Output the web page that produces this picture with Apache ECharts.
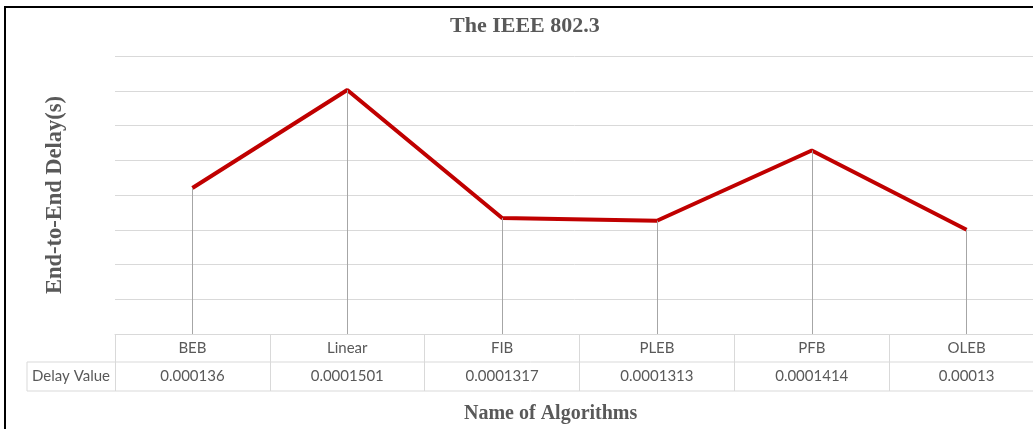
<!DOCTYPE html>
<html>
<head>
<meta charset="utf-8">
<script src="https://cdn.jsdelivr.net/npm/echarts@6/dist/echarts.min.js"></script>
<style>
html,body{margin:0;padding:0;background:#fff;}
#c{width:1033px;height:429px;}
</style>
</head>
<body>
<div id="c"></div>
<script>
// ---- data ----
var algorithms = ['BEB', 'Linear', 'FIB', 'PLEB', 'PFB', 'OLEB'];
var delayValues = [0.000136, 0.0001501, 0.0001317, 0.0001313, 0.0001414, 0.00013];
var seriesName = 'Delay Value';
var Y_MIN = 0.000115, Y_MAX = 0.000155, Y_STEP = 0.000005;

var delayLabels = delayValues.map(function (v) { return String(v); });
var gridColor = '#d9d9d9';
var textColor = '#595959';
var serif = '"Liberation Serif", "Times New Roman", serif';
var sans = 'Lato, "Open Sans", sans-serif';

var chart = echarts.init(document.getElementById('c'), null, {renderer: 'canvas'});
chart.setOption({
  animation: false,
  backgroundColor: '#ffffff',
  title: [
    {text: 'The IEEE 802.3', left: 450, top: 15, padding: 0,
     textStyle: {fontFamily: serif, fontWeight: 'bold', fontSize: 22, color: textColor}},
    {text: 'Name of Algorithms', left: 464, top: 404, padding: 0,
     textStyle: {fontFamily: serif, fontWeight: 'bold', fontSize: 20, color: textColor}}
  ],
  grid: {left: 115, top: 56, width: 929, height: 278, outerBoundsMode: 'none', containLabel: false},
  xAxis: [
    {type: 'category', data: algorithms, position: 'bottom', boundaryGap: true,
     axisLine: {show: true, lineStyle: {color: gridColor, width: 1}},
     axisTick: {show: true, length: 57, interval: 0, lineStyle: {color: gridColor, width: 1}},
     axisLabel: {interval: 0, margin: 0, lineHeight: 28, fontFamily: sans, fontSize: 15, color: textColor},
     splitLine: {show: false}},
    {type: 'category', data: delayLabels, position: 'bottom', offset: 28, boundaryGap: true,
     axisLine: {show: false}, axisTick: {show: false},
     axisLabel: {interval: 0, margin: 0, lineHeight: 29, fontFamily: sans, fontSize: 15, color: textColor},
     splitLine: {show: false}}
  ],
  yAxis: {
    type: 'value', min: Y_MIN, max: Y_MAX, interval: Y_STEP,
    name: 'End-to-End Delay(s)', nameLocation: 'middle', nameGap: 48,
    nameTextStyle: {fontFamily: serif, fontWeight: 'bold', fontSize: 22.5, color: textColor},
    axisLine: {show: false}, axisTick: {show: false}, axisLabel: {show: false},
    splitLine: {show: true, lineStyle: {color: gridColor, width: 1}}
  },
  series: [{
    name: seriesName, type: 'line', data: delayValues, xAxisIndex: 0,
    symbol: 'none', lineStyle: {color: '#c00000', width: 4},
    z: 3,
    markLine: {
      silent: true, symbol: ['none', 'none'], label: {show: false},
      lineStyle: {color: '#a6a6a6', width: 1, type: 'solid'},
      emphasis: {disabled: true},
      data: delayValues.map(function (v, i) {
        return [{coord: [i, Y_MIN]}, {coord: [i, v]}];
      })
    }
  }],
  graphic: [
    {type: 'rect', shape: {x: 27, y: 362, width: 1020, height: 29},
     style: {fill: null, stroke: gridColor, lineWidth: 1}, silent: true},
    {type: 'text', style: {x: 71, y: 376.5, text: 'Delay Value', align: 'center', verticalAlign: 'middle',
     font: '15px ' + sans, fill: textColor}, silent: true},
    {type: 'rect', shape: {x: 5, y: 7, width: 1100, height: 500},
     style: {fill: null, stroke: '#000000', lineWidth: 2}, silent: true, z: 100}
  ]
});
</script>
</body>
</html>
